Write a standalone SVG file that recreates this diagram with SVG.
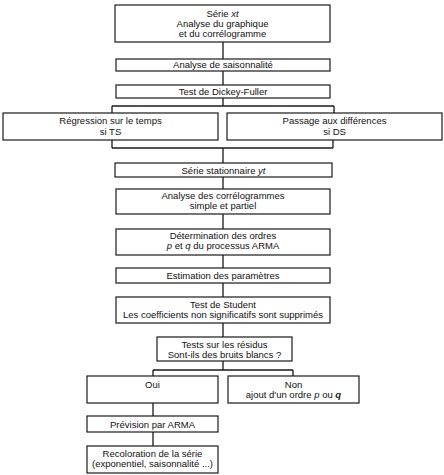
<svg xmlns="http://www.w3.org/2000/svg" width="444" height="475" viewBox="0 0 444 475">
<style>
.b{fill:#fff;stroke:#1a1a1a;stroke-width:1.2}
.c{fill:none;stroke:#1a1a1a;stroke-width:1.3}
text{font-family:"Liberation Sans",Arial,sans-serif;font-size:9.5px;fill:#111;text-anchor:middle}
.i{font-style:italic}
</style>
<rect width="444" height="475" fill="#fff"/>
<g id="connectors">
<path class="c" d="M223 42V59M223 71V85M223 98V106M112 106H334M112 106V113M334 106V113M112 140V148M333 140V148M112 148H333M223 148V163M223 177V189M223 214V229M223 255V268M223 283V297M223 323V337M223 361V370M153 370H293M153 370V376M293 370V376M153 403V416M153 432V446"/>
</g>
<g id="n1"><rect class="b" x="115" y="5" width="215" height="37"/><text x="222.5" y="17">Série <tspan class="i">xt</tspan></text><text x="222.5" y="27">Analyse du graphique</text><text x="222.5" y="37">et du corrélogramme</text></g>
<g id="n2"><rect class="b" x="116" y="59" width="214" height="12"/><text x="223" y="68.4">Analyse de saisonnalité</text></g>
<g id="n3"><rect class="b" x="116" y="85" width="214" height="13"/><text x="223" y="95">Test de Dickey-Fuller</text></g>
<g id="n4"><rect class="b" x="3" y="113" width="215" height="27"/><text x="110.5" y="124">Régression sur le temps</text><text x="110.5" y="134.5">si TS</text></g>
<g id="n5"><rect class="b" x="227" y="113" width="215" height="27"/><text x="334.5" y="124">Passage aux différences</text><text x="334.5" y="134.5">si DS</text></g>
<g id="n6"><rect class="b" x="115" y="163" width="217" height="14"/><text x="223.5" y="173.5">Série stationnaire <tspan class="i">yt</tspan></text></g>
<g id="n7"><rect class="b" x="116" y="189" width="214" height="25"/><text x="223" y="199">Analyse des corrélogrammes</text><text x="223" y="209">simple et partiel</text></g>
<g id="n8"><rect class="b" x="116" y="229" width="214" height="26"/><text x="223" y="239">Détermination des ordres</text><text x="223" y="249"><tspan class="i">p</tspan> et <tspan class="i">q</tspan> du processus ARMA</text></g>
<g id="n9"><rect class="b" x="116" y="268" width="214" height="15"/><text x="223" y="278.5">Estimation des paramètres</text></g>
<g id="n10"><rect class="b" x="116" y="297" width="214" height="26"/><text x="223" y="308">Test de Student</text><text x="223" y="318">Les coefficients non significatifs sont supprimés</text></g>
<g id="n11"><rect class="b" x="157" y="337" width="135" height="24"/><text x="224.5" y="348">Tests sur les résidus</text><text x="224.5" y="358">Sont-ils des bruits blancs ?</text></g>
<g id="n12"><rect class="b" x="87" y="376" width="131" height="27"/><text x="152.5" y="388">Oui</text></g>
<g id="n13"><rect class="b" x="228" y="376" width="131" height="27"/><text x="293.5" y="388">Non</text><text x="293.5" y="398">ajout d'un ordre <tspan class="i">p</tspan> ou <tspan class="i" font-weight="bold">q</tspan></text></g>
<g id="n14"><rect class="b" x="87" y="416" width="131" height="16"/><text x="152.5" y="427.5">Prévision par ARMA</text></g>
<g id="n15"><rect class="b" x="87" y="446" width="131" height="27"/><text x="152.5" y="456.5">Recoloration de la série</text><text x="152.5" y="466.5">(exponentiel, saisonnalité ...)</text></g>
</svg>
